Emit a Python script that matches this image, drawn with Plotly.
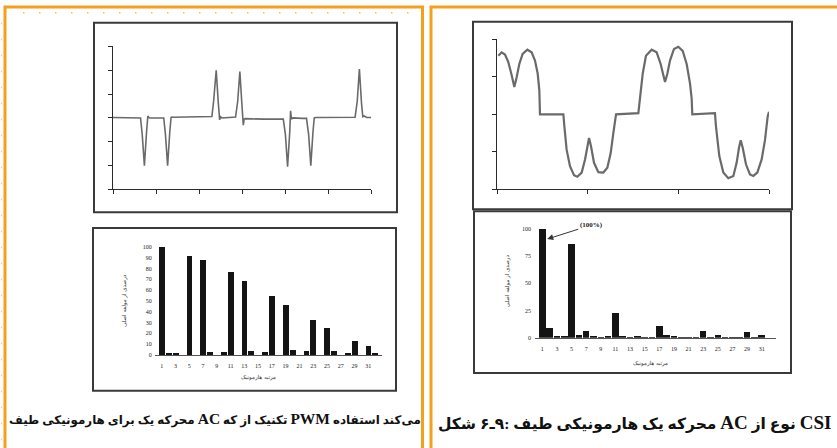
import plotly.graph_objects as go

W, H = 837, 448


def px(x):
    return x / W


def py(y):
    return 1 - y / H


# ---------------- data ----------------
# PWM drive: output voltage waveform (arbitrary units)
pwm_time = [0.00, 0.50,
            0.64, 0.68, 0.73, 0.78, 0.81, 0.83, 0.86, 1.00,
            1.18, 1.22, 1.27, 1.32, 1.35, 1.37, 1.40, 2.00,
            2.30, 2.34, 2.40, 2.45, 2.48, 2.50, 2.53, 2.70,
            2.85, 2.90, 2.95, 3.00, 3.03, 3.05, 3.08, 3.50,
            3.96, 4.01, 4.06, 4.11, 4.13, 4.15, 4.18, 4.40,
            4.50, 4.55, 4.60, 4.65, 4.68, 4.72, 5.00,
            5.63, 5.68, 5.73, 5.78, 5.81, 5.84, 5.90, 6.00]
pwm_value = [0.02, 0.00,
             0.00, -0.70, -2.00, -0.60, 0.08, 0.02, 0.00, 0.00,
             0.00, -0.70, -2.00, -0.60, 0.02, 0.04, 0.03, 0.05,
             0.06, 0.70, 2.00, 0.60, -0.08, 0.05, 0.00, 0.02,
             0.04, 0.70, 1.95, 0.50, -0.30, -0.05, -0.03, -0.05,
             -0.05, -0.70, -2.05, -0.60, 0.30, -0.05, 0.00, -0.02,
             -0.02, -0.70, -2.00, -0.60, 0.00, 0.02, 0.03,
             0.03, 0.70, 2.05, 0.60, 0.05, 0.08, 0.02, 0.02]

# CSI drive: motor current waveform
csi_time = [0.015, 0.051, 0.088, 0.125, 0.162, 0.191, 0.217, 0.246, 0.283, 0.335,
            0.382, 0.419, 0.449, 0.467, 0.474, 0.732, 0.743, 0.768, 0.805, 0.849,
            0.886, 0.934, 0.971, 0.996, 1.015, 1.037, 1.070, 1.118, 1.173, 1.217,
            1.254, 1.283, 1.305, 1.313, 1.559, 1.577, 1.607, 1.643, 1.706, 1.761,
            1.805, 1.835, 1.853, 1.879, 1.908, 1.952, 2.000, 2.048, 2.092, 2.129,
            2.147, 2.154, 2.404, 2.415, 2.452, 2.496, 2.551, 2.607, 2.643, 2.669,
            2.688, 2.710, 2.746, 2.790, 2.827, 2.871, 2.919, 2.956, 2.985, 3.000]
csi_value = [1.56, 1.65, 1.59, 1.39, 1.04, 0.73, 0.99, 1.34, 1.61, 1.72,
             1.65, 1.43, 1.08, 0.64, 0.00, 0.00, -0.32, -0.94, -1.38, -1.62,
             -1.66, -1.55, -1.20, -0.85, -0.63, -0.85, -1.29, -1.54, -1.55, -1.42,
             -1.03, -0.50, -0.06, 0.00, 0.03, 0.38, 1.08, 1.56, 1.72, 1.65,
             1.34, 1.04, 0.86, 1.08, 1.43, 1.74, 1.80, 1.69, 1.34, 0.82,
             0.42, 0.00, 0.03, -0.32, -1.11, -1.55, -1.70, -1.64, -1.29, -0.89,
             -0.69, -0.89, -1.33, -1.60, -1.64, -1.55, -1.20, -0.68, -0.06, 0.07]

harmonic_order = [1, 2, 3, 4, 5, 6, 7, 8, 9, 10, 11, 12, 13, 14, 15, 16,
                  17, 18, 19, 20, 21, 22, 23, 24, 25, 26, 27, 28, 29, 30, 31, 32]
pwm_spectrum = [100, 2.0, 2.0, 0.0, 91.5, 0.0, 87.5, 3.0, 0.0, 2.5, 77, 0.0, 68.5, 3.7, 0.0, 3.0,
                55, 0.0, 46.5, 4.3, 0.0, 3.5, 32, 0.0, 25, 3.5, 0.0, 2.0, 12.8, 0.0, 8.2, 1.8]
csi_spectrum = [100, 9.0, 1.5, 1.5, 86, 3.0, 6.0, 2.0, 0.5, 1.0, 23, 2.0, 0.5, 1.0, 0.5, 0.5,
                11, 2.5, 2.0, 0.5, 0.5, 0.5, 6.0, 0.5, 3.0, 0.5, 0.5, 0.5, 5.0, 0.5, 3.0, 0.0]

order_ticks = [1, 3, 5, 7, 9, 11, 13, 15, 17, 19, 21, 23, 25, 27, 29, 31]
pwm_pct_ticks = [0, 10, 20, 30, 40, 50, 60, 70, 80, 90, 100]
csi_pct_ticks = [0, 25, 50, 75, 100]

x_title = "مرتبه هارمونیک"
y_title = "درصدی از مولفه اصلی"
fundamental_note = "(100%)"
caption_left = "طیف هارمونیکی برای یک محرکه AC که از تکنیک PWM استفاده می‌کند"
caption_right = "شکل \u202d۶ـ۹:\u202c طیف هارمونیکی یک محرکه AC از نوع CSI"


def ltr_words(s, latin_size):
    # the scanned page prints the words left to right; keep that order
    # (leading LRM fixes a left-to-right paragraph, LRM between words
    # keeps each Persian word as its own run); Latin words print larger
    out = []
    for w in s.split(" "):
        if w.isascii():
            out.append('<span style="font-size:%gpx">%s</span>' % (latin_size, w))
        else:
            out.append(w)
    return "\u200e" + " \u200e".join(out)


# ---------------- figure ----------------
INK = "#2b2b2b"
WAVE = "#6a6a6a"
ORANGE = "#F5A01C"

fig = go.Figure()

fig.add_trace(go.Scatter(x=pwm_time, y=pwm_value, mode="lines",
                         line=dict(color=WAVE, width=1.6), xaxis="x", yaxis="y",
                         showlegend=False, hoverinfo="skip"))
fig.add_trace(go.Bar(x=harmonic_order, y=pwm_spectrum, width=0.85,
                     marker=dict(color="#141414", line=dict(width=0)),
                     xaxis="x2", yaxis="y2", showlegend=False))
fig.add_trace(go.Scatter(x=csi_time, y=csi_value, mode="lines",
                         line=dict(color=WAVE, width=2.2), xaxis="x3", yaxis="y3",
                         showlegend=False, hoverinfo="skip"))
fig.add_trace(go.Bar(x=harmonic_order, y=csi_spectrum, width=0.9,
                     marker=dict(color="#141414", line=dict(width=0)),
                     xaxis="x4", yaxis="y4", showlegend=False))

wave_axis = dict(showline=True, linecolor=INK, linewidth=1, ticks="outside",
                 ticklen=4, tickcolor=INK, tickwidth=1, dtick=1,
                 showticklabels=False, showgrid=False, zeroline=False)
tickfont = dict(family="Liberation Serif", size=6, color="#222")

fig.update_layout(
    width=W, height=H, margin=dict(l=0, r=0, t=0, b=0),
    paper_bgcolor="white", plot_bgcolor="rgba(0,0,0,0)",
    bargap=0,
    xaxis=dict(domain=[px(113), px(371)], range=[0, 6], anchor="y", tick0=0, **wave_axis),
    yaxis=dict(domain=[py(189), py(44)], range=[-3, 3], anchor="x", tick0=0, **wave_axis),
    xaxis3=dict(domain=[px(497), px(769)], range=[0, 3], anchor="y3", tick0=0, **wave_axis),
    yaxis3=dict(domain=[py(189), py(36.7)], range=[-2, 2], anchor="x3", tick0=0, **wave_axis),
    xaxis2=dict(domain=[px(154.8), px(382)], range=[0, 33], anchor="y2",
                showline=True, linecolor="#555", linewidth=1, ticks="",
                tickmode="array", tickvals=order_ticks, ticktext=[str(v) for v in order_ticks],
                tickfont=tickfont, ticklabelstandoff=5, showgrid=False, zeroline=False),
    yaxis2=dict(domain=[py(356.7), py(247.3)], range=[0, 100], anchor="x2",
                showline=False, ticks="", tickmode="array", tickvals=pwm_pct_ticks,
                tickfont=tickfont, ticklabelstandoff=2, showgrid=False, zeroline=False),
    xaxis4=dict(domain=[px(535), px(776.3)], range=[0, 33], anchor="y4",
                showline=True, linecolor="#555", linewidth=1, ticks="",
                tickmode="array", tickvals=order_ticks, ticktext=[str(v) for v in order_ticks],
                tickfont=tickfont, ticklabelstandoff=5, showgrid=False, zeroline=False),
    yaxis4=dict(domain=[py(339.3), py(229)], range=[0, 100], anchor="x4",
                showline=False, ticks="", tickmode="array", tickvals=csi_pct_ticks,
                tickfont=tickfont, ticklabelstandoff=3, showgrid=False, zeroline=False),
)

# frames around the printed figures
box = dict(type="rect", xref="paper", yref="paper", line=dict(color="#3a3a3a", width=2),
           fillcolor="rgba(0,0,0,0)", layer="below")
shapes = [
    dict(box, x0=px(94), x1=px(397), y0=py(212), y1=py(20)),
    dict(box, x0=px(93), x1=px(396), y0=py(393), y1=py(228)),
    dict(box, x0=px(473), x1=px(792), y0=py(209), y1=py(19)),
    dict(box, x0=px(474), x1=px(791), y0=py(375), y1=py(211)),
    # orange page frames
    dict(type="rect", xref="paper", yref="paper", x0=px(5), x1=px(422.5), y0=py(470), y1=py(4),
         line=dict(color=ORANGE, width=3), fillcolor="rgba(0,0,0,0)"),
    dict(type="rect", xref="paper", yref="paper", x0=px(431), x1=px(850), y0=py(470), y1=py(4),
         line=dict(color=ORANGE, width=3), fillcolor="rgba(0,0,0,0)"),
    dict(type="line", xref="paper", yref="paper", x0=px(23), x1=px(410), y0=py(10), y1=py(10),
         line=dict(color="#F8B870", width=1.5, dash="1.5px,14.5px")),
    dict(type="line", xref="paper", yref="paper", x0=px(1.5), x1=px(1.5), y0=py(20), y1=py(448),
         line=dict(color="#F8C48A", width=1.2, dash="1.5px,14.5px")),
]
fig.update_layout(shapes=shapes)

small = dict(family="DejaVu Sans", size=5.5, color="#333")
centre = dict(xref="paper", yref="paper", xanchor="center", yanchor="middle", showarrow=False)
annotations = [
    dict(centre, text=x_title, x=px(258), y=py(380), font=small),
    dict(centre, text=y_title, x=px(125), y=py(302), textangle=-90, font=small),
    dict(centre, text=x_title, x=px(650), y=py(365), font=small),
    dict(centre, text=y_title, x=px(507), y=py(282), textangle=-90, font=small),
    dict(text=fundamental_note, x=1.68, y=90.7, xref="x4", yref="y4",
         ax=44, ay=-14, showarrow=True, arrowhead=2, arrowsize=1.2, arrowwidth=1,
         arrowcolor="#333",
         font=dict(family="Liberation Serif", size=7, color="#222", weight="bold")),
    dict(centre, text=ltr_words(caption_left, 15.5), x=px(215), y=py(422),
         font=dict(family="Liberation Serif, DejaVu Sans", size=11.9, color="#111", weight="bold")),
    dict(centre, text=ltr_words(caption_right, 19), x=px(634), y=py(425),
         font=dict(family="Liberation Serif, DejaVu Sans", size=15.5, color="#111", weight="bold")),
]
fig.update_layout(annotations=annotations)

fig.write_html("out.html", config={"displayModeBar": False},
               post_script="document.body.style.margin='0';")
